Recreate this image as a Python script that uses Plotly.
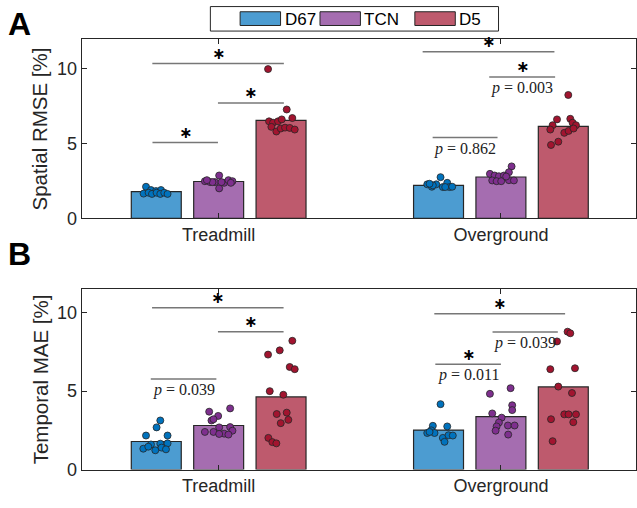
import plotly.graph_objects as go

# ---------------- data ----------------
groups = ["Treadmill", "Overground"]
models = ["D67", "TCN", "D5"]

# bar heights (mean) per panel
rmse_bars = {"D67": [1.78, 2.20], "TCN": [2.46, 2.76], "D5": [6.54, 6.14]}
mae_bars = {"D67": [1.79, 2.52], "TCN": [2.81, 3.37], "D5": [4.63, 5.27]}

# individual subject values and horizontal jitter (px from bar centre)
rmse_pts = {
    ("D67", 0): [2.11, 1.89, 1.82, 1.89, 1.65, 1.71, 1.63, 1.71, 1.63, 1.71, 1.63],
    ("TCN", 0): [2.48, 2.42, 2.42, 2.86, 2.37, 2.55, 2.48, 2.00, 2.42, 2.37, 2.55, 2.42],
    ("D5", 0): [9.97, 7.27, 6.70, 6.48, 6.39, 6.48, 6.61, 6.11, 5.80, 6.00, 6.06, 6.04, 5.93],
    ("D67", 1): [2.75, 2.27, 2.11, 2.27, 2.09, 2.37, 2.09, 2.11, 2.20, 2.31, 2.09],
    ("TCN", 1): [3.47, 3.08, 2.97, 2.86, 2.81, 2.86, 2.53, 2.48, 2.48, 2.55, 2.53, 2.79],
    ("D5", 1): [8.24, 6.61, 6.65, 6.22, 6.39, 6.22, 5.93, 5.71, 5.84, 6.00, 4.90, 5.12],
}
rmse_jit = {
    ("D67", 0): [-10.3, -5.3, -0.3, 4.7, -12.7, -7.7, -4.3, 0.3, 4.0, 8.0, 11.3],
    ("TCN", 0): [-13.8, -8.5, -3.8, 0.5, 5.5, 9.8, 13.8, 0.5, -6.2, 12.2, -11.8, 2.8],
    ("D5", 0): [-13.0, 5.7, 11.3, -12.0, -8.0, -3.0, 0.7, -9.7, -4.7, -0.3, 4.0, 8.7, 13.7],
    ("D67", 1): [2.0, -11.3, -6.7, -2.3, 4.3, 8.7, 11.0, 13.7, -5.7, -9.0, 6.7],
    ("TCN", 1): [10.7, 8.0, -11.0, -6.3, -2.0, 3.0, -8.7, -4.3, 0.3, 8.0, 13.0, 5.3],
    ("D5", 1): [5.0, -6.3, 7.0, -10.7, 9.3, 12.7, -13.0, 1.0, 5.3, 10.3, -12.3, -5.0],
}
mae_pts = {
    ("D67", 0): [3.13, 2.69, 2.17, 2.17, 1.60, 1.65, 1.67, 1.33, 1.46, 1.23, 1.40, 1.29],
    ("TCN", 0): [3.90, 3.69, 3.42, 3.13, 3.21, 2.40, 2.40, 2.69, 2.29, 2.71, 2.48, 2.23, 2.27],
    ("D5", 0): [8.21, 7.33, 7.60, 6.54, 6.40, 5.00, 4.77, 3.54, 3.63, 2.96, 3.17, 2.02, 1.75, 1.67],
    ("D67", 1): [4.17, 2.79, 2.75, 2.33, 2.50, 2.33, 2.02, 1.77, 2.19, 2.17, 2.40],
    ("TCN", 1): [4.83, 5.19, 4.10, 3.79, 3.58, 3.31, 3.00, 2.81, 2.81, 2.75, 2.48, 2.23],
    ("D5", 1): [8.79, 8.69, 8.17, 6.40, 6.46, 5.29, 4.88, 3.52, 3.52, 3.52, 3.02, 3.21, 1.81],
}
mae_jit = {
    ("D67", 0): [4.0, 0.3, -10.3, 11.3, -5.3, 4.0, 11.3, -13.0, -8.0, -1.0, 5.3, 9.7],
    ("TCN", 0): [11.5, -9.5, -0.5, -7.2, -5.2, -13.8, -5.2, 0.5, 5.5, 11.5, 13.8, 9.8, 0.5],
    ("D5", 0): [11.3, -13.0, -1.3, 8.7, 13.7, -11.3, 2.3, -4.3, 5.7, -0.3, 7.3, -12.7, -8.7, -4.7],
    ("D67", 1): [2.0, -5.7, 8.7, -11.3, -7.3, -4.0, 4.3, 6.0, 10.0, 14.3, -9.0],
    ("TCN", 1): [-11.0, 9.7, 11.3, 11.3, -8.7, 0.7, -2.0, 7.0, 13.7, -4.3, -5.3, 7.3],
    ("D5", 1): [4.3, 7.0, -6.3, -13.0, 11.7, -5.0, 8.7, 1.0, 5.3, 12.7, 10.0, -12.3, -10.7],
}

# significance brackets: (x_start, x_end, height, star, p-text)
rmse_brackets = [
    (0.765, 1.231, 10.34, True, None),
    (0.9975, 1.231, 7.71, True, None),
    (0.7655, 0.9975, 5.07, True, None),
    (1.7227, 2.1896, 11.13, True, None),
    (1.9586, 2.1921, 9.45, True, "0.003"),
    (1.7581, 1.988, 5.40, False, "0.862"),
]
mae_brackets = [
    (0.764, 1.23, 10.31, True, None),
    (0.9975, 1.23, 8.79, True, None),
    (0.7595, 0.9919, 5.77, False, "0.039"),
    (1.764, 2.2274, 9.94, True, None),
    (1.9703, 2.2016, 8.77, False, "0.039"),
    (1.7676, 2.0, 6.71, True, "0.011"),
]

# ---------------- style ----------------
W, H = 637, 508
PX_PER_UNIT = 282.7  # x-axis pixels per category unit
bar_fill = {"D67": "#4C9CD1", "TCN": "#A56DB0", "D5": "#BE5A6D"}
dot_col = {"D67": "#0072BD", "TCN": "#7E2F8E", "D5": "#A2142F"}
offsets = {"D67": -0.221, "TCN": 0.0, "D5": 0.221}
bar_w = 0.177
txt = "#262626"
font_sans = "Liberation Sans, Arial, sans-serif"
font_serif = "Liberation Serif, DejaVu Serif, serif"

fig = go.Figure()

panels = [
    ("x", "y", rmse_bars, rmse_pts, rmse_jit, rmse_brackets),
    ("x2", "y2", mae_bars, mae_pts, mae_jit, mae_brackets),
]

for xa, ya, bars, pts, jit, brackets in panels:
    for m in models:
        fig.add_trace(go.Bar(
            x=[g + 1 + offsets[m] for g in range(len(groups))],
            y=bars[m], width=bar_w, xaxis=xa, yaxis=ya,
            marker=dict(color=bar_fill[m], line=dict(color="#262626", width=1.2)),
            showlegend=False, hoverinfo="skip"))
    for m in models:
        for g in range(len(groups)):
            vals = pts[(m, g)]
            jx = jit[(m, g)]
            fig.add_trace(go.Scatter(
                x=[g + 1 + offsets[m] + j / PX_PER_UNIT for j in jx], y=vals,
                mode="markers", xaxis=xa, yaxis=ya, showlegend=False,
                marker=dict(size=7, color=dot_col[m], line=dict(color="#262626", width=0.8))))
    for (x0, x1, h, star, ptxt) in brackets:
        fig.add_shape(type="line", xref=xa, yref=ya, x0=x0, x1=x1, y0=h, y1=h,
                      line=dict(color="#777777", width=1.5))
        if star:
            fig.add_annotation(x=(x0 + x1) / 2, y=h, xref=xa, yref=ya, text="<b>∗</b>",
                               showarrow=False, yshift=10, yanchor="middle",
                               font=dict(family="DejaVu Sans", size=16, color="black"))
        if ptxt:
            fig.add_annotation(x=(x0 + x1) / 2, y=h, xref=xa, yref=ya,
                               text="<i>p</i> = " + ptxt,
                               showarrow=False, yshift=-11, yanchor="middle",
                               font=dict(family=font_serif, size=16, color="#222"))

xdom = [81.7 / W, 1.0]
ydomA = [1 - 222.7 / H, 1 - 39.5 / H]
ydomB = [1 - 479 / H, 1 - 295 / H]

axis_common = dict(showline=True, linecolor="#262626", linewidth=1, mirror="ticks",
                   ticks="inside", ticklen=5, tickcolor="#262626", showgrid=False,
                   zeroline=False, tickfont=dict(family=font_sans, size=18, color=txt))

fig.update_layout(
    width=W, height=H, margin=dict(l=0, r=0, t=0, b=0),
    plot_bgcolor="white", paper_bgcolor="white", barmode="overlay",
    xaxis=dict(domain=xdom, anchor="y", range=[0.5143, 2.4786], tickvals=[1, 2],
               ticktext=groups, **axis_common),
    yaxis=dict(domain=ydomA, anchor="x", range=[0, 12], tickvals=[0, 5, 10], **axis_common),
    xaxis2=dict(domain=xdom, anchor="y2", range=[0.5143, 2.4786], tickvals=[1, 2],
                ticktext=groups, **axis_common),
    yaxis2=dict(domain=ydomB, anchor="x2", range=[0, 11.5], tickvals=[0, 5, 10], **axis_common),
)

# y-axis titles
for ytxt, yc in [("Spatial RMSE [%]", (39.5 + 222.7) / 2), ("Temporal MAE [%]", (295 + 479) / 2)]:
    fig.add_annotation(x=40 / W, y=1 - yc / H, xref="paper", yref="paper", text=ytxt,
                       textangle=-90, showarrow=False, xanchor="center", yanchor="middle",
                       font=dict(family=font_sans, size=20.5, color=txt))

# panel letters
for letter, yc in [("A", 24), ("B", 259)]:
    fig.add_annotation(x=20 / W, y=1 - yc / H, xref="paper", yref="paper", text="<b>" + letter + "</b>",
                       showarrow=False, xanchor="center", yanchor="middle",
                       font=dict(family="Liberation Sans, Arial", size=32, color="black"))

# legend (drawn manually)
fig.add_shape(type="rect", xref="paper", yref="paper", x0=210.7 / W, x1=499.3 / W,
              y0=1 - 31.7 / H, y1=1 - 6.7 / H, line=dict(color="#262626", width=1),
              fillcolor="white")
leg_x = {"D67": 240.5, "TCN": 320.5, "D5": 415.5}
for m in models:
    x0 = leg_x[m]
    fig.add_shape(type="rect", xref="paper", yref="paper", x0=x0 / W, x1=(x0 + 40.5) / W,
                  y0=1 - 26 / H, y1=1 - 12 / H, fillcolor=bar_fill[m],
                  line=dict(color="#262626", width=1))
    fig.add_annotation(x=(x0 + 42.5) / W, y=1 - 19.5 / H, xref="paper", yref="paper", text=m,
                       showarrow=False, xanchor="left", yanchor="middle",
                       font=dict(family=font_sans, size=17, color="black"))

fig.write_html("out.html")
